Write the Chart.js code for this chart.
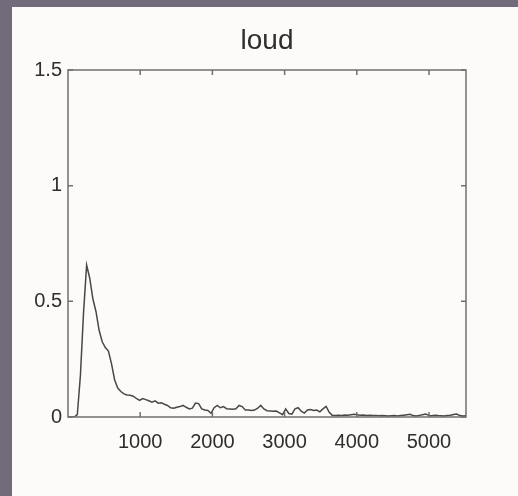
<!DOCTYPE html>
<html>
<head>
<meta charset="utf-8">
<script src="https://cdn.jsdelivr.net/npm/chart.js@4.4.1/dist/chart.umd.min.js"></script>
<style>
  html, body { margin: 0; padding: 0; background: #fcfbf9; }
  #c { display: block; }
</style>
</head>
<body>
<canvas id="c" width="518" height="496"></canvas>
<script>
// frequency bins (Hz)
const freqs = [0, 43, 86, 129, 172, 215, 258, 301, 345, 388, 431, 474, 517, 560, 603, 646,
  689, 732, 775, 818, 861, 904, 947, 991, 1034, 1077, 1120, 1163, 1206, 1249, 1292, 1335,
  1378, 1421, 1464, 1507, 1550, 1593, 1637, 1680, 1723, 1766, 1809, 1852, 1895, 1938, 1981,
  2024, 2067, 2110, 2153, 2196, 2239, 2283, 2326, 2369, 2412, 2455, 2498, 2541, 2584, 2627,
  2670, 2713, 2756, 2799, 2842, 2885, 2929, 2972, 3015, 3058, 3101, 3144, 3187, 3230, 3273,
  3316, 3359, 3402, 3445, 3488, 3531, 3575, 3618, 3661, 3704, 3747, 3790, 3833, 3876, 3919,
  3962, 4005, 4048, 4091, 4134, 4177, 4221, 4264, 4307, 4350, 4393, 4436, 4479, 4522, 4565,
  4608, 4651, 4694, 4737, 4780, 4823, 4867, 4910, 4953, 4996, 5039, 5082, 5125, 5168, 5211,
  5254, 5297, 5340, 5383, 5426, 5469, 5512];

// magnitude for each bin
const loud = [0, 0, 0, 0.01, 0.18, 0.45, 0.657, 0.6, 0.51, 0.455, 0.375, 0.325, 0.3, 0.285,
  0.23, 0.16, 0.125, 0.11, 0.1, 0.095, 0.094, 0.09, 0.08, 0.072, 0.08, 0.075, 0.07, 0.064,
  0.07, 0.06, 0.062, 0.055, 0.05, 0.04, 0.038, 0.042, 0.045, 0.05, 0.042, 0.035, 0.038,
  0.06, 0.058, 0.035, 0.03, 0.028, 0.016, 0.04, 0.05, 0.04, 0.045, 0.036, 0.035, 0.034,
  0.036, 0.05, 0.045, 0.03, 0.03, 0.028, 0.03, 0.038, 0.05, 0.035, 0.027, 0.026, 0.025,
  0.026, 0.018, 0.01, 0.035, 0.015, 0.012, 0.035, 0.04, 0.025, 0.017, 0.03, 0.032, 0.028,
  0.03, 0.022, 0.035, 0.046, 0.02, 0.007, 0.007, 0.008, 0.007, 0.009, 0.008, 0.01, 0.012,
  0.01, 0.008, 0.009, 0.007, 0.008, 0.006, 0.007, 0.005, 0.006, 0.005, 0.004, 0.005, 0.006,
  0.004, 0.006, 0.008, 0.01, 0.012, 0.006, 0.004, 0.007, 0.01, 0.013, 0.007, 0.005, 0.008,
  0.006, 0.005, 0.004, 0.006, 0.008, 0.011, 0.013, 0.006, 0.004, 0.005];

const xTicks = [1000, 2000, 3000, 4000, 5000];
const yTicks = [0, 0.5, 1, 1.5];
const xMax = 5512.5;

const points = freqs.map((f, i) => ({ x: f, y: loud[i] }));

const frame = {
    id: 'frame',
    beforeDraw(chart) {
        const c = chart.ctx;
        c.save();
        c.fillStyle = '#716b7b';
        c.fillRect(0, 0, chart.width, chart.height);
        c.fillStyle = '#fcfbf9';
        c.fillRect(12, 7, chart.width - 12, chart.height - 7);
        c.restore();
    },
    afterDraw(chart) {
        const c = chart.ctx;
        const a = chart.chartArea;
        const xs = chart.scales.x, ys = chart.scales.y;
        c.save();
        c.strokeStyle = '#707070';
        c.lineWidth = 1.5;
        c.strokeRect(a.left, a.top, a.right - a.left, a.bottom - a.top);
        c.beginPath();
        xTicks.forEach(v => {
            const px = xs.getPixelForValue(v);
            c.moveTo(px, a.bottom); c.lineTo(px, a.bottom - 5);
            c.moveTo(px, a.top); c.lineTo(px, a.top + 5);
        });
        yTicks.forEach(v => {
            const py = ys.getPixelForValue(v);
            c.moveTo(a.left, py); c.lineTo(a.left + 5, py);
            c.moveTo(a.right, py); c.lineTo(a.right - 5, py);
        });
        c.stroke();
        c.restore();
    }
};

const font = { family: '"Liberation Sans", Arial, Helvetica, sans-serif', size: 20 };

new Chart(document.getElementById('c'), {
    type: 'line',
    data: {
        datasets: [{
            data: points,
            borderColor: '#484848',
            borderWidth: 1.5,
            pointRadius: 0,
            tension: 0,
            fill: false
        }]
    },
    options: {
        responsive: false,
        animation: false,
        devicePixelRatio: 1,
        layout: { padding: { top: 10, left: 0, right: 52, bottom: 0 } },
        scales: {
            x: {
                type: 'linear',
                min: 0,
                max: xMax,
                grid: { display: false, drawTicks: false },
                border: { display: false },
                afterBuildTicks: s => { s.ticks = xTicks.map(v => ({ value: v })); },
                afterFit: s => { s.height = 79; },
                ticks: { color: '#2e2e2e', font: font, padding: 13, maxRotation: 0,
                    callback: v => String(v) }
            },
            y: {
                min: 0,
                max: 1.5,
                grid: { display: false, drawTicks: false },
                border: { display: false },
                afterBuildTicks: s => { s.ticks = yTicks.map(v => ({ value: v })); },
                afterFit: s => { s.width = 68; },
                ticks: { color: '#2e2e2e', font: font, padding: 6,
                    callback: v => String(v) }
            }
        },
        plugins: {
            legend: { display: false },
            tooltip: { enabled: false },
            title: {
                display: true,
                fullSize: false,
                text: 'loud',
                color: '#2e2e2e',
                font: { family: '"Liberation Sans", Arial, Helvetica, sans-serif', size: 28, weight: 'normal' },
                padding: { top: 14, bottom: 12.4 }
            }
        }
    },
    plugins: [frame]
});
</script>
</body>
</html>
